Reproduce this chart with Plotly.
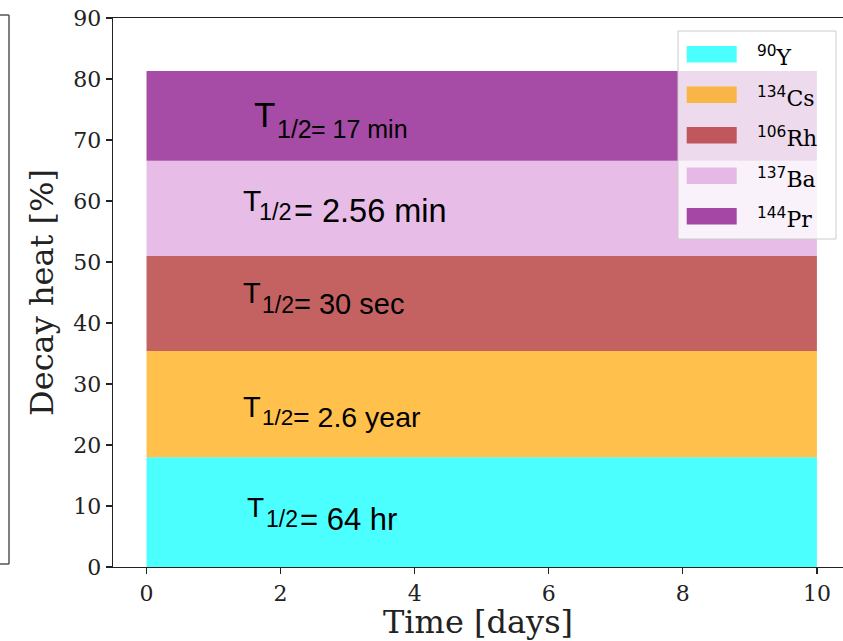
import plotly.graph_objects as go

# ---------------- data ----------------
days = [0, 10]
mass_numbers = ["90", "134", "106", "137", "144"]
elements = ["Y", "Cs", "Rh", "Ba", "Pr"]
heat_Y = [18.0, 18.0]
heat_Cs = [17.4, 17.4]
heat_Rh = [15.6, 15.6]
heat_Ba = [15.6, 15.6]
heat_Pr = [14.7, 14.7]
half_lives = ["64 hr", "2.6 year", "30 sec", "2.56 min", "17 min"]
x_ticks = [0, 2, 4, 6, 8, 10]
y_ticks = [0, 10, 20, 30, 40, 50, 60, 70, 80, 90]

series = [heat_Y, heat_Cs, heat_Rh, heat_Ba, heat_Pr]

# ---------------- style ----------------
colors = ["rgba(0,255,255,0.7)", "rgba(255,165,0,0.7)", "rgba(171,31,31,0.7)",
          "rgba(221,160,221,0.7)", "rgba(128,0,128,0.7)"]
SERIF = "DejaVu Serif"
SANS = "Liberation Sans"
AX = "#222222"

fig = go.Figure()
for vals, el, m, c in zip(series, elements, mass_numbers, colors):
    fig.add_trace(go.Scatter(x=days, y=vals, stackgroup="one", mode="none",
                             fillcolor=c, name=f"{m}{el}", showlegend=False,
                             hoverinfo="skip"))

# band mid-points from the data
cum = 0
mids = []
for vals in series:
    mids.append(cum + vals[0] / 2)
    cum += vals[0]

# label styles: (x of T, T size, T yshift, sub xshift, sub size, sub yshift, rest xshift, rest size, rest yshift)
label_style = [
    (1.50, 28, 4.5, 18.7, 23, -7.3, 52.7, 31, -7.5),
    (1.442, 29, -2.6, 19.0, 22.5, -13.6, 49.7, 28.5, -13.2),
    (1.442, 29, 10.2, 19.0, 23, -1.2, 51.0, 29, -0.4),
    (1.442, 30, 8.1, 15.7, 23.5, -3.4, 50.7, 32.5, -2.3),
    (1.60, 35, 1.0, 23.0, 25, -12.7, 57.5, 25, -12.7),
]
annotations = []
for hl, ym, st in zip(half_lives, mids, label_style):
    tx, ts, ty, sx, ss, sy, rx, rs, ry = st
    common = dict(x=tx, y=ym, xref="x", yref="y", showarrow=False,
                  xanchor="left", yanchor="middle", borderpad=0, borderwidth=0)
    annotations.append(dict(text="T", font=dict(family=SANS, size=ts, color="black"),
                            yshift=ty, **common))
    annotations.append(dict(text="1/2", font=dict(family=SANS, size=ss, color="black"),
                            xshift=sx, yshift=sy, **common))
    annotations.append(dict(text="= " + hl, font=dict(family=SANS, size=rs, color="black"),
                            xshift=rx, yshift=ry, **common))

# ---------------- manual legend ----------------
shapes = []
W, H = 843, 641
ML, MR, MT, MB = 113, 0, 18, 74
pw = W - ML - MR
ph = H - MT - MB


def px_x(p):
    return (p - ML) / pw


def px_y(p):
    return (H - MB - p) / ph


shapes.append(dict(type="rect", xref="paper", yref="paper",
                   x0=px_x(678), x1=px_x(836), y0=px_y(239), y1=px_y(31),
                   fillcolor="rgba(255,255,255,0.8)", line=dict(color="#cccccc", width=1),
                   layer="above"))
for i, (el, m, c) in enumerate(zip(elements, mass_numbers, colors)):
    cy = 54.2 + 40.5 * i
    shapes.append(dict(type="rect", xref="paper", yref="paper",
                       x0=px_x(686.7), x1=px_x(736.7), y0=px_y(cy + 8.3), y1=px_y(cy - 8.3),
                       fillcolor=c, line=dict(width=0), layer="above"))
    annotations.append(dict(
        text=f"<sup><span style='font-family:DejaVu Sans'>{m}</span></sup>{el}",
        x=px_x(757), y=px_y(cy), xref="paper", yref="paper", showarrow=False,
        xanchor="left", yanchor="middle", borderpad=0, borderwidth=0, yshift=-2,
        font=dict(family=SERIF, size=22, color="black")))

# fragment of neighbouring panel on the left
frag = dict(color="#555555", width=1.5)
shapes.append(dict(type="line", xref="paper", yref="paper", x0=px_x(9), x1=px_x(9),
                   y0=px_y(15), y1=px_y(564), line=frag))
shapes.append(dict(type="line", xref="paper", yref="paper", x0=px_x(-2), x1=px_x(9),
                   y0=px_y(15), y1=px_y(15), line=frag))
shapes.append(dict(type="line", xref="paper", yref="paper", x0=px_x(-2), x1=px_x(9),
                   y0=px_y(564), y1=px_y(564), line=frag))

fig.update_layout(
    width=W, height=H,
    margin=dict(l=ML, r=MR, t=MT, b=MB, pad=0, autoexpand=False),
    plot_bgcolor="white", paper_bgcolor="white",
    showlegend=False,
    annotations=annotations, shapes=shapes,
    xaxis=dict(range=[-0.5, -0.5 + pw / 67.04], tickvals=x_ticks, automargin=False,
               ticks="outside", ticklen=6, tickwidth=1.3, tickcolor=AX,
               showline=True, linecolor=AX, linewidth=1.3, mirror=True,
               showgrid=False, zeroline=False,
               tickfont=dict(family=SERIF, size=22, color=AX),
               title=dict(text="Time [days]", font=dict(family=SERIF, size=32, color=AX),
                          standoff=5)),
    yaxis=dict(range=[0, 90], tickvals=y_ticks, automargin=False,
               ticks="outside", ticklen=6, tickwidth=1.3, tickcolor=AX,
               showline=True, linecolor=AX, linewidth=1.3, mirror=False,
               showgrid=False, zeroline=False,
               tickfont=dict(family=SERIF, size=22, color=AX),
               title=dict(text="Decay heat [%]", font=dict(family=SERIF, size=32, color=AX),
                          standoff=10)),
)

fig.write_html("out.html", config={"displayModeBar": False, "staticPlot": True},
               post_script="document.body.style.margin='0';document.body.style.overflow='hidden';")
